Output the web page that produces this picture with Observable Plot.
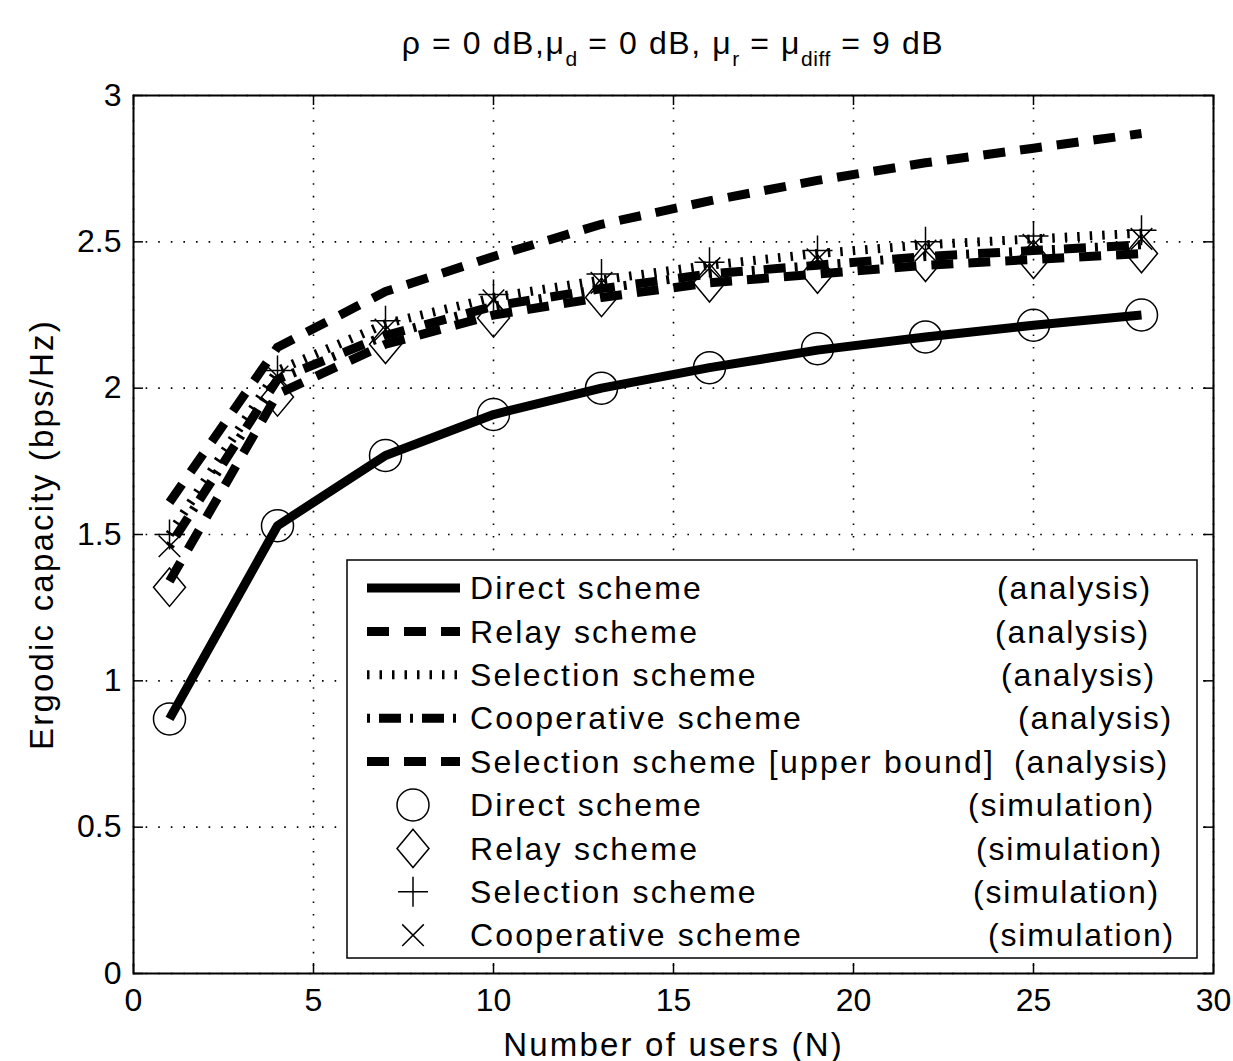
<!DOCTYPE html>
<html>
<head>
<meta charset="utf-8">
<script src="https://cdn.jsdelivr.net/npm/d3@7"></script>
<script src="https://cdn.jsdelivr.net/npm/@observablehq/plot@0.6"></script>
<style>
  html, body { margin: 0; padding: 0; background: white; }
  #wrap { position: relative; width: 1233px; height: 1061px; overflow: hidden; font-family: "Liberation Sans", Arial, Helvetica, sans-serif; }
  #title { position: absolute; left: 133px; width: 1080px; top: 28px; height: 50px; text-align: center;
           font-size: 32px; line-height: 30px; letter-spacing: 1.6px; color: black; white-space: nowrap; }
  #title .sub { font-size: 21px; position: relative; top: 12px; letter-spacing: 0.5px; }
  #chart { position: absolute; left: 0; top: 80px; }
</style>
</head>
<body>
<div id="wrap">
  <div id="title">ρ = 0 dB,μ<span class="sub">d</span> = 0 dB, μ<span class="sub">r</span> = μ<span class="sub">diff</span> = 9 dB</div>
  <div id="chart"></div>
</div>
<script>
// ---------------- data ----------------
const users = [1, 4, 7, 10, 13, 16, 19, 22, 25, 28];

const directAnalysis      = [0.87, 1.53, 1.77, 1.91, 2.00, 2.07, 2.13, 2.175, 2.215, 2.25];
const relayAnalysis       = [1.34, 1.98, 2.15, 2.25, 2.31, 2.36, 2.39, 2.42, 2.44, 2.46];
const selectionAnalysis   = [1.50, 2.06, 2.22, 2.31, 2.37, 2.42, 2.46, 2.49, 2.51, 2.53];
const cooperativeAnalysis = [1.46, 2.03, 2.18, 2.28, 2.34, 2.39, 2.42, 2.45, 2.47, 2.49];
const upperBoundAnalysis  = [1.61, 2.14, 2.33, 2.45, 2.56, 2.64, 2.71, 2.77, 2.82, 2.87];

const directSim      = [0.87, 1.53, 1.77, 1.91, 2.00, 2.07, 2.135, 2.175, 2.215, 2.25];
const relaySim       = [1.32, 1.97, 2.15, 2.24, 2.31, 2.36, 2.39, 2.43, 2.44, 2.46];
const selectionSim   = [1.50, 2.06, 2.23, 2.32, 2.39, 2.43, 2.47, 2.50, 2.52, 2.54];
const cooperativeSim = [1.46, 2.04, 2.20, 2.30, 2.36, 2.41, 2.44, 2.47, 2.49, 2.51];

const xTicks = [0, 5, 10, 15, 20, 25, 30];
const xTickLabels = ["0", "5", "10", "15", "20", "25", "30"];
const yTicks = [0, 0.5, 1, 1.5, 2, 2.5, 3];
const yTickLabels = ["0", "0.5", "1", "1.5", "2", "2.5", "3"];

const legendLabels = ["Direct scheme", "Relay scheme", "Selection scheme", "Cooperative scheme",
  "Selection scheme [upper bound]", "Direct scheme", "Relay scheme", "Selection scheme", "Cooperative scheme"];
const legendTags = ["(analysis)", "(analysis)", "(analysis)", "(analysis)", "(analysis)",
  "(simulation)", "(simulation)", "(simulation)", "(simulation)"];

// ---------------- styles ----------------
const FONT = '"Liberation Sans", Arial, Helvetica, sans-serif';
const styles = {
  direct:      {strokeWidth: 9, strokeDasharray: null, strokeLinecap: "butt"},
  relay:       {strokeWidth: 9, strokeDasharray: "22,15", strokeLinecap: "butt"},
  selection:   {strokeWidth: 9, strokeDasharray: "2.5,10", strokeLinecap: "butt"},
  cooperative: {strokeWidth: 9, strokeDasharray: "3,9,22,9", strokeLinecap: "butt"},
  upper:       {strokeWidth: 9, strokeDasharray: "22,15", strokeLinecap: "butt"}
};
const tallDiamond = {draw(ctx, size) { const r = Math.sqrt(size / Math.PI);
  ctx.moveTo(0, -1.2 * r); ctx.lineTo(r, 0); ctx.lineTo(0, 1.2 * r); ctx.lineTo(-r, 0); ctx.closePath(); }};
const thinPlus = {draw(ctx, size) { const r = Math.sqrt(size / Math.PI);
  ctx.moveTo(-r, 0); ctx.lineTo(r, 0); ctx.moveTo(0, -r); ctx.lineTo(0, r); }};
const thinTimes = {draw(ctx, size) { const r = Math.sqrt(size / Math.PI) * 0.72;
  ctx.moveTo(-r, -r); ctx.lineTo(r, r); ctx.moveTo(-r, r); ctx.lineTo(r, -r); }};
const circleSym = {draw(ctx, size) { const r = Math.sqrt(size / Math.PI);
  ctx.moveTo(r, 0); ctx.arc(0, 0, r, 0, 2 * Math.PI); }};

const rows = (ys) => users.map((n, i) => ({n, v: ys[i]}));
const line = (ys, st) => Plot.line(rows(ys), {x: "n", y: "v", stroke: "black", strokeLinejoin: "round", ...st});
const dots = (ys, sym, r) => Plot.dot(rows(ys), {x: "n", y: "v", symbol: sym, r, fill: "none", stroke: "black", strokeWidth: 1.5});

const W = 1233, H = 981, mL = 133, mR = 20, mT = 15, mB = 88;
const plotH = H - mT - mB, plotW = W - mL - mR;
const tickLen = 10;

const chart = Plot.plot({
  width: W, height: H,
  marginLeft: mL, marginRight: mR, marginTop: mT, marginBottom: mB,
  style: {fontFamily: FONT, fontSize: "32px", background: "white", color: "black", overflow: "visible"},
  x: {domain: [0, 30]},
  y: {domain: [0, 3]},
  marks: [
    Plot.gridX(xTicks, {stroke: "black", strokeOpacity: 1, strokeWidth: 1.6, strokeDasharray: "1.6,11"}),
    Plot.gridY(yTicks, {stroke: "black", strokeOpacity: 1, strokeWidth: 1.6, strokeDasharray: "1.6,11"}),
    // inward ticks
    Plot.tickX(xTicks, {x: d => d, stroke: "black", strokeWidth: 1.5, insetTop: plotH - tickLen}),
    Plot.tickX(xTicks, {x: d => d, stroke: "black", strokeWidth: 1.5, insetBottom: plotH - tickLen}),
    Plot.tickY(yTicks, {y: d => d, stroke: "black", strokeWidth: 1.5, insetRight: plotW - tickLen}),
    Plot.tickY(yTicks, {y: d => d, stroke: "black", strokeWidth: 1.5, insetLeft: plotW - tickLen}),
    Plot.axisX(xTicks, {tickSize: 0, tickPadding: 15, tickFormat: (d, i) => xTickLabels[i], fontSize: 32,
      label: "Number of users (N)", labelAnchor: "center", labelArrow: "none", labelOffset: 82}),
    Plot.axisY(yTicks, {tickSize: 0, tickPadding: 12, tickFormat: (d, i) => yTickLabels[i], fontSize: 32,
      label: "Ergodic capacity (bps/Hz)", labelAnchor: "center", labelArrow: "none", labelOffset: 104}),
    line(directAnalysis, styles.direct),
    line(relayAnalysis, styles.relay),
    line(selectionAnalysis, styles.selection),
    line(cooperativeAnalysis, styles.cooperative),
    line(upperBoundAnalysis, styles.upper),
    dots(directSim, circleSym, 16),
    dots(relaySim, tallDiamond, 16),
    dots(selectionSim, thinPlus, 15),
    dots(cooperativeSim, thinTimes, 15),
    Plot.frame({stroke: "black", strokeWidth: 2})
  ]
});
document.getElementById("chart").appendChild(chart);

// letter spacing for axis labels (the reference font is set wider)
const svg = d3.select(chart);
svg.selectAll("[aria-label='x-axis label'] text, [aria-label='y-axis label'] text")
  .style("letter-spacing", "2.2px").style("font-size", "33px");

// ---------------- legend ----------------
const lgLeft = 347, lgTop = 480, lgW = 850, lgH = 398;
const rowY0 = 508, rowStep = 43.4;
const tagRight = [1152, 1150, 1156, 1173, 1169, 1155, 1163, 1160, 1175];
const legendKinds = [
  {line: styles.direct}, {line: styles.relay}, {line: styles.selection}, {line: styles.cooperative}, {line: styles.upper},
  {sym: circleSym, r: 16}, {sym: tallDiamond, r: 16}, {sym: thinPlus, r: 15}, {sym: thinTimes, r: 15}
];
const lg = svg.append("g").attr("font-family", FONT).attr("font-size", 32).attr("fill", "black")
  .attr("text-anchor", "start");
lg.append("rect").attr("x", lgLeft).attr("y", lgTop).attr("width", lgW).attr("height", lgH)
  .attr("fill", "white").attr("stroke", "black").attr("stroke-width", 1.5);
legendLabels.forEach((label, i) => {
  const y = rowY0 + i * rowStep;
  const k = legendKinds[i];
  if (k.line) {
    lg.append("line").attr("x1", 367).attr("x2", 460).attr("y1", y).attr("y2", y)
      .attr("stroke", "black").attr("stroke-width", k.line.strokeWidth)
      .attr("stroke-dasharray", k.line.strokeDasharray).attr("stroke-linecap", "butt");
  } else {
    lg.append("path").attr("transform", `translate(413,${y})`)
      .attr("d", d3.symbol(k.sym, Math.PI * k.r * k.r)())
      .attr("fill", "none").attr("stroke", "black").attr("stroke-width", 1.5);
  }
  lg.append("text").attr("x", 470).attr("y", y).attr("dy", "0.35em").attr("text-anchor", "start")
    .style("letter-spacing", "2.2px").text(label);
  lg.append("text").attr("x", tagRight[i]).attr("y", y).attr("dy", "0.35em").attr("text-anchor", "end")
    .style("letter-spacing", "1.8px").text(legendTags[i]);
});
</script>
</body>
</html>
